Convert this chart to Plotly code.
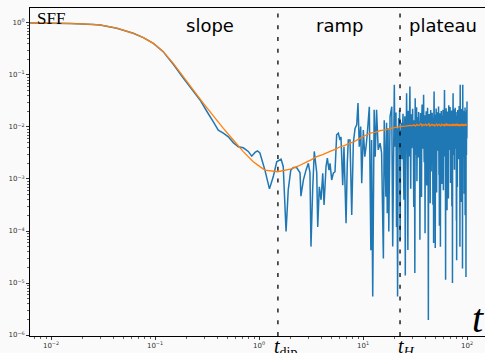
import numpy as np
import plotly.graph_objects as go

# ---------------- data ----------------
# single-realisation SFF (blue), early / ramp part: explicit samples
blue_t = [0.0063, 0.01, 0.0158, 0.0251, 0.0296, 0.0429, 0.0618, 0.0773, 0.0964, 0.120,
          0.130, 0.150, 0.187, 0.233, 0.271, 0.320, 0.364, 0.406, 0.454, 0.507,
          0.566, 0.632, 0.706, 0.789, 0.851, 0.916, 0.967, 1.02, 1.14, 1.26,
          1.37, 1.48, 1.63, 1.71, 1.82, 1.91, 2.02, 2.14, 2.30, 2.48,
          2.53, 2.67, 2.83, 2.98, 3.09, 3.16, 3.28, 3.40, 3.59, 3.67,
          3.80, 3.95, 4.10, 4.22, 4.41, 4.54, 4.71, 4.82, 5.00, 5.18,
          5.38, 5.58, 5.79, 6.01, 6.14, 6.38, 6.56, 6.87, 7.06, 7.22,
          7.50, 7.79, 8.07, 8.38, 8.70, 8.95, 9.21, 9.50, 9.72, 10.07,
          10.4, 10.7, 11.0, 11.5, 11.9, 12.1, 12.4, 12.8, 13.1, 13.5,
          14.0, 14.6, 15.1, 15.7, 16.0, 16.6, 16.85, 17.1, 17.4, 17.7,
          18.2, 18.9, 19.3]
blue_sff = [1.0, 0.99, 0.976, 0.94, 0.916, 0.794, 0.634, 0.522, 0.406, 0.281,
            0.228, 0.160, 0.0871, 0.049, 0.0331, 0.019, 0.0126, 0.0087, 0.00759, 0.00646,
            0.00501, 0.00417, 0.00398, 0.00339, 0.00275, 0.00324, 0.00347, 0.00316, 0.00148, 0.000646,
            0.0011, 0.00214, 0.0024, 0.00174, 0.0000977, 0.000617, 0.00148, 0.00166, 0.00166, 0.00132,
            0.000468, 0.000955, 0.00148, 0.002, 0.00132, 0.0000501, 0.000617, 0.00339, 0.00132, 0.00012,
            0.000708, 0.000398, 0.00129, 0.000316, 0.00174, 0.00251, 0.00148, 0.002, 0.000955, 0.00129,
            0.00138, 0.00708, 0.00759, 0.00562, 0.00646, 0.000759, 0.00417, 0.000141, 0.002, 0.00562,
            0.00562, 0.000204, 0.0049, 0.00933, 0.011, 0.0288, 0.00417, 0.0102, 0.000832, 0.00871,
            0.00269, 0.00417, 0.00759, 0.0245, 0.0000427, 0.00562, 0.0000055, 0.0214, 0.00269, 0.0214,
            0.00363, 0.0049, 0.00316, 0.0000295, 0.0135, 0.000457, 0.012, 0.000219, 0.0095, 0.0000977,
            0.0158, 0.0245, 0.0000501]

# blue plateau part: samples every 0.25 in t from t = 20 to t = 100
blue_plateau_t0 = 20.0
blue_plateau_dt = 0.25
blue_plateau_sff = [
    0.0646, 0.0042, 0.0056, 0.019, 1.2e-4, 0.0095, 5.5e-6, 0.0031, 0.0148, 0.0068,
    0.021, 6.8e-5, 0.0087, 0.0036, 0.012, 0.0024, 0.0102, 0.018, 0.0019, 4.0e-4,
    0.0072, 0.016, 1.4e-5, 0.0115, 0.0048, 0.0447, 0.0061, 0.0013, 4.3e-5, 0.0205,
    0.0084, 0.0027, 0.0158, 0.060, 0.0052, 6.5e-4, 0.013, 0.0175, 0.0039, 0.0093,
    0.0225, 0.0046, 0.0078, 2.9e-4, 0.0135, 0.0098, 1.55e-5, 0.0355, 0.0064, 0.0029,
    0.0112, 0.024, 9.0e-4, 0.0089, 0.0155, 0.0058, 0.0026, 0.0195, 0.0071, 0.0121,
    0.0034, 6.8e-5, 0.0104, 0.0185, 0.0049, 0.0082, 4.5e-4, 0.0142, 0.027, 0.0066,
    0.0038, 0.0128, 0.0092, 0.0417, 0.0057, 0.0021, 0.0109, 0.0168, 9.1e-5, 0.0074,
    0.0145, 0.0033, 0.0201, 0.0087, 7.5e-4, 0.0119, 0.0052, 0.0235, 0.0096, 0.0043,
    1.95e-6, 0.0131, 0.0068, 0.0178, 0.0025, 0.0106, 0.0159, 3.4e-4, 0.0083, 0.0212,
    0.0055, 0.0014, 0.0124, 0.0091, 0.0037, 0.0188, 0.0069, 0.0115, 3.2e-4, 0.0148,
    0.0078, 5.9e-5, 0.0163, 0.0479, 0.0061, 0.0029, 0.0134, 0.0097, 4.7e-5, 0.0172,
    0.0046, 0.0101, 0.0226, 0.0073, 5.5e-4, 0.0138, 0.0085, 0.0054, 0.0192, 0.0112,
    0.0035, 0.0151, 0.0066, 0.0248, 0.0094, 0.0012, 0.0127, 1.26e-4, 0.0079, 0.0183,
    0.0058, 0.0107, 5.0e-5, 0.0141, 0.0088, 0.0031, 0.0204, 0.0071, 0.0119, 8.0e-4,
    0.0166, 0.0093, 0.0022, 0.0133, 0.0061, 0.0215, 0.0084, 6.1e-4, 0.0125, 0.0152,
    0.0048, 0.0099, 0.0187, 0.0513, 0.0067, 0.0027, 0.0114, 0.0171, 0.0039, 1.15e-5,
    0.0136, 0.0076, 0.0229, 0.0105, 0.0044, 0.0157, 0.0089, 2.5e-4, 0.0123, 0.0063,
    0.0198, 0.0032, 0.0117, 0.0082, 0.0146, 4.2e-4, 0.0102, 0.0263, 0.0057, 0.0129,
    0.0091, 0.0036, 0.0174, 0.0068, 0.0113, 0.0241, 0.0049, 0.0139, 8.4e-4, 0.0095,
    0.0161, 0.0072, 0.0026, 0.0121, 0.0208, 0.0087, 3.0e-4, 0.0148, 0.0107, 0.0041,
    1.0e-5, 0.0132, 0.0077, 0.0189, 0.0447, 0.0064, 0.0116, 0.0029, 0.0154, 0.0098,
    0.0059, 0.0219, 0.0084, 0.0015, 0.0127, 0.0171, 0.0046, 0.0109, 0.0234, 0.0069,
    0.0137, 0.0093, 0.0038, 0.0165, 0.0081, 0.0118, 1.6e-4, 0.0145, 2.75e-5, 0.0103,
    0.0194, 0.0062, 0.0128, 7.0e-4, 0.0159, 0.0088, 0.0211, 0.0051, 0.0114, 0.0073,
    0.0024, 0.0142, 0.0097, 0.0181, 0.0056, 0.0123, 0.0252, 0.0079, 0.0043, 0.0135,
    0.0086, 0.0168, 5.0e-5, 0.0111, 0.0646, 0.0067, 0.0149, 0.0031, 0.0101, 0.0197,
    0.0058, 0.0126, 0.0089, 3.6e-4, 0.0153, 0.0074, 0.0222, 0.0108, 0.0045, 0.0139,
    0.0092, 0.0184, 1.9e-5, 0.0119, 0.0646, 0.0063, 0.0131, 0.0037, 0.0162, 0.0084,
    0.0116, 0.0027, 0.0205, 0.0071, 0.0144, 0.0099, 5.2e-4, 0.0176, 0.0124, 0.0065,
    0.0157, 0.0035, 0.0112, 0.0238, 2.0e-4, 0.0133, 0.0086, 0.0191, 0.0047, 0.0104,
    0.0147, 1.3e-5, 0.0121, 0.0078, 0.0173, 0.0029, 0.0137, 0.0094, 0.0212, 0.0061,
    0.031]

# ensemble-averaged SFF (orange)
orange_t = [0.0063, 0.01, 0.0158, 0.0251, 0.0296, 0.0429, 0.0618, 0.0773, 0.0964, 0.120,
            0.150, 0.187, 0.233, 0.292, 0.364, 0.454, 0.566, 0.706, 0.881, 1.02,
            1.14, 1.51, 2.0, 2.4, 2.88, 3.2, 3.59, 4.1, 4.82, 5.4,
            6.01, 6.6, 7.0, 7.5, 8.2, 9.35, 10.3, 11.7, 13.0, 14.6,
            16.2, 18.2, 20.5, 22.7, 25.5, 28.3]
orange_sff = [1.0, 0.99, 0.976, 0.94, 0.916, 0.794, 0.634, 0.522, 0.406, 0.281,
              0.1675, 0.0929, 0.0515, 0.0285, 0.0163, 0.00942, 0.00562, 0.00336, 0.00215, 0.00173,
              0.00148, 0.00138, 0.00155, 0.00178, 0.00214, 0.00236, 0.00269, 0.00295, 0.00339, 0.00372,
              0.00417, 0.00436, 0.00462, 0.0049, 0.0052, 0.00603, 0.0067, 0.00759, 0.0079, 0.00851,
              0.0088, 0.00933, 0.0098, 0.0102, 0.0104, 0.0107]
orange_plateau_t0 = 30.0
orange_plateau_dt = 1.0
orange_plateau_sff = [
    0.0106, 0.0110, 0.0104, 0.0112, 0.0107, 0.0109, 0.0115, 0.0105, 0.0111, 0.0108,
    0.0113, 0.0106, 0.0110, 0.0116, 0.0104, 0.0109, 0.0112, 0.0107, 0.0111, 0.0105,
    0.0110, 0.0114, 0.0106, 0.0109, 0.0112, 0.0108, 0.0105, 0.0113, 0.0110, 0.0107,
    0.0111, 0.0104, 0.0112, 0.0109, 0.0116, 0.0106, 0.0110, 0.0108, 0.0113, 0.0105,
    0.0109, 0.0111, 0.0107, 0.0114, 0.0106, 0.0110, 0.0112, 0.0105, 0.0109, 0.0115,
    0.0108, 0.0111, 0.0106, 0.0113, 0.0107, 0.0110, 0.0104, 0.0112, 0.0109, 0.0114,
    0.0106, 0.0111, 0.0108, 0.0113, 0.0105, 0.0110, 0.0112, 0.0107, 0.0111, 0.0109, 0.0110]

t_dip = 1.52
t_H = 22.7

region_labels = ["slope", "ramp", "plateau"]
region_label_t = [0.338, 6.0, 58.8]

x_tick_exponents = [-2, -1, 0, 1, 2]
y_tick_exponents = [-6, -5, -4, -3, -2, -1, 0]

# ---------------- assemble ----------------
bt = list(blue_t) + [blue_plateau_t0 + blue_plateau_dt * i for i in range(len(blue_plateau_sff))]
by = list(blue_sff) + list(blue_plateau_sff)
ot = list(orange_t) + [orange_plateau_t0 + orange_plateau_dt * i for i in range(len(orange_plateau_sff))]
oy = list(orange_sff) + list(orange_plateau_sff)

fig = go.Figure()
fig.add_trace(go.Scatter(x=bt, y=by, mode="lines",
                         line=dict(color="#1f77b4", width=1.5, simplify=False),
                         hoverinfo="skip"))
fig.add_trace(go.Scatter(x=ot, y=oy, mode="lines",
                         line=dict(color="#ff7f0e", width=1.3, simplify=False),
                         hoverinfo="skip"))

for tv in (t_dip, t_H):
    fig.add_shape(type="line", xref="x", yref="paper",
                  x0=tv, x1=tv, y0=0, y1=1,
                  line=dict(color="black", width=1.3, dash="4px,7.8px"))

def sup(e):
    return "10<sup>" + ("\u2212" if e < 0 else "") + str(abs(e)) + "</sup>"

minor_vals = [k * 10.0 ** n for n in range(-7, 3) for k in range(2, 10)]
tickfont = dict(family="DejaVu Sans", size=7, color="#333333")

fig.update_xaxes(type="log", range=[-2.202, 2.173],
                 showline=True, linecolor="black", linewidth=1, mirror=True,
                 showgrid=False, zeroline=False,
                 ticks="outside", ticklen=3, tickwidth=0.8, tickcolor="black",
                 tickmode="array", tickvals=[10.0 ** e for e in x_tick_exponents],
                 ticktext=[sup(e) for e in x_tick_exponents], tickfont=tickfont,
                 minor=dict(ticks="outside", ticklen=1.8, tickwidth=0.6, tickcolor="black",
                            tickmode="array", tickvals=minor_vals, showgrid=False))
fig.update_yaxes(type="log", range=[-6.019, 0.288],
                 showline=True, linecolor="black", linewidth=1, mirror=False,
                 showgrid=False, zeroline=False,
                 ticks="outside", ticklen=3, tickwidth=0.8, tickcolor="black",
                 tickmode="array", tickvals=[10.0 ** e for e in y_tick_exponents],
                 ticktext=[sup(e) for e in y_tick_exponents], tickfont=tickfont,
                 minor=dict(ticks="outside", ticklen=1.8, tickwidth=0.6, tickcolor="black",
                            tickmode="array", tickvals=minor_vals, showgrid=False))

ann = []
for lab, tv in zip(region_labels, region_label_t):
    ann.append(dict(x=np.log10(tv), y=0.948, xref="x", yref="paper", text=lab,
                    showarrow=False, xanchor="center", yanchor="middle",
                    font=dict(family="DejaVu Sans", size=18, color="black")))
ann.append(dict(x=0.011, y=0.9695, xref="paper", yref="paper", text="SFF",
                showarrow=False, xanchor="left", yanchor="middle",
                font=dict(family="Liberation Serif", size=17, color="black")))
ann.append(dict(x=0.9857, y=0.052, xref="paper", yref="paper", text="<i>t</i>",
                showarrow=False, xanchor="center", yanchor="middle",
                font=dict(family="Liberation Serif", size=40, color="black")))
ann.append(dict(x=np.log10(t_dip), y=0, xref="x", yref="paper", xshift=-6, yshift=3,
                text="<i>t</i><sub>dip</sub>", showarrow=False, xanchor="left", yanchor="top",
                font=dict(family="Liberation Serif", size=20, color="black")))
ann.append(dict(x=np.log10(t_H), y=0, xref="x", yref="paper", xshift=-4, yshift=3,
                text="<i>t<sub>H</sub></i>", showarrow=False, xanchor="left", yanchor="top",
                font=dict(family="Liberation Serif", size=20, color="black")))

fig.update_layout(width=485, height=353, margin=dict(l=30, r=0, t=8, b=17),
                  paper_bgcolor="#fafafa", plot_bgcolor="#fafafa",
                  showlegend=False, annotations=ann)

fig.write_html("out.html", config={"displayModeBar": False, "staticPlot": True},
               post_script="document.body.style.margin='0';document.body.style.overflow='hidden';document.body.style.background='#fafafa';")
